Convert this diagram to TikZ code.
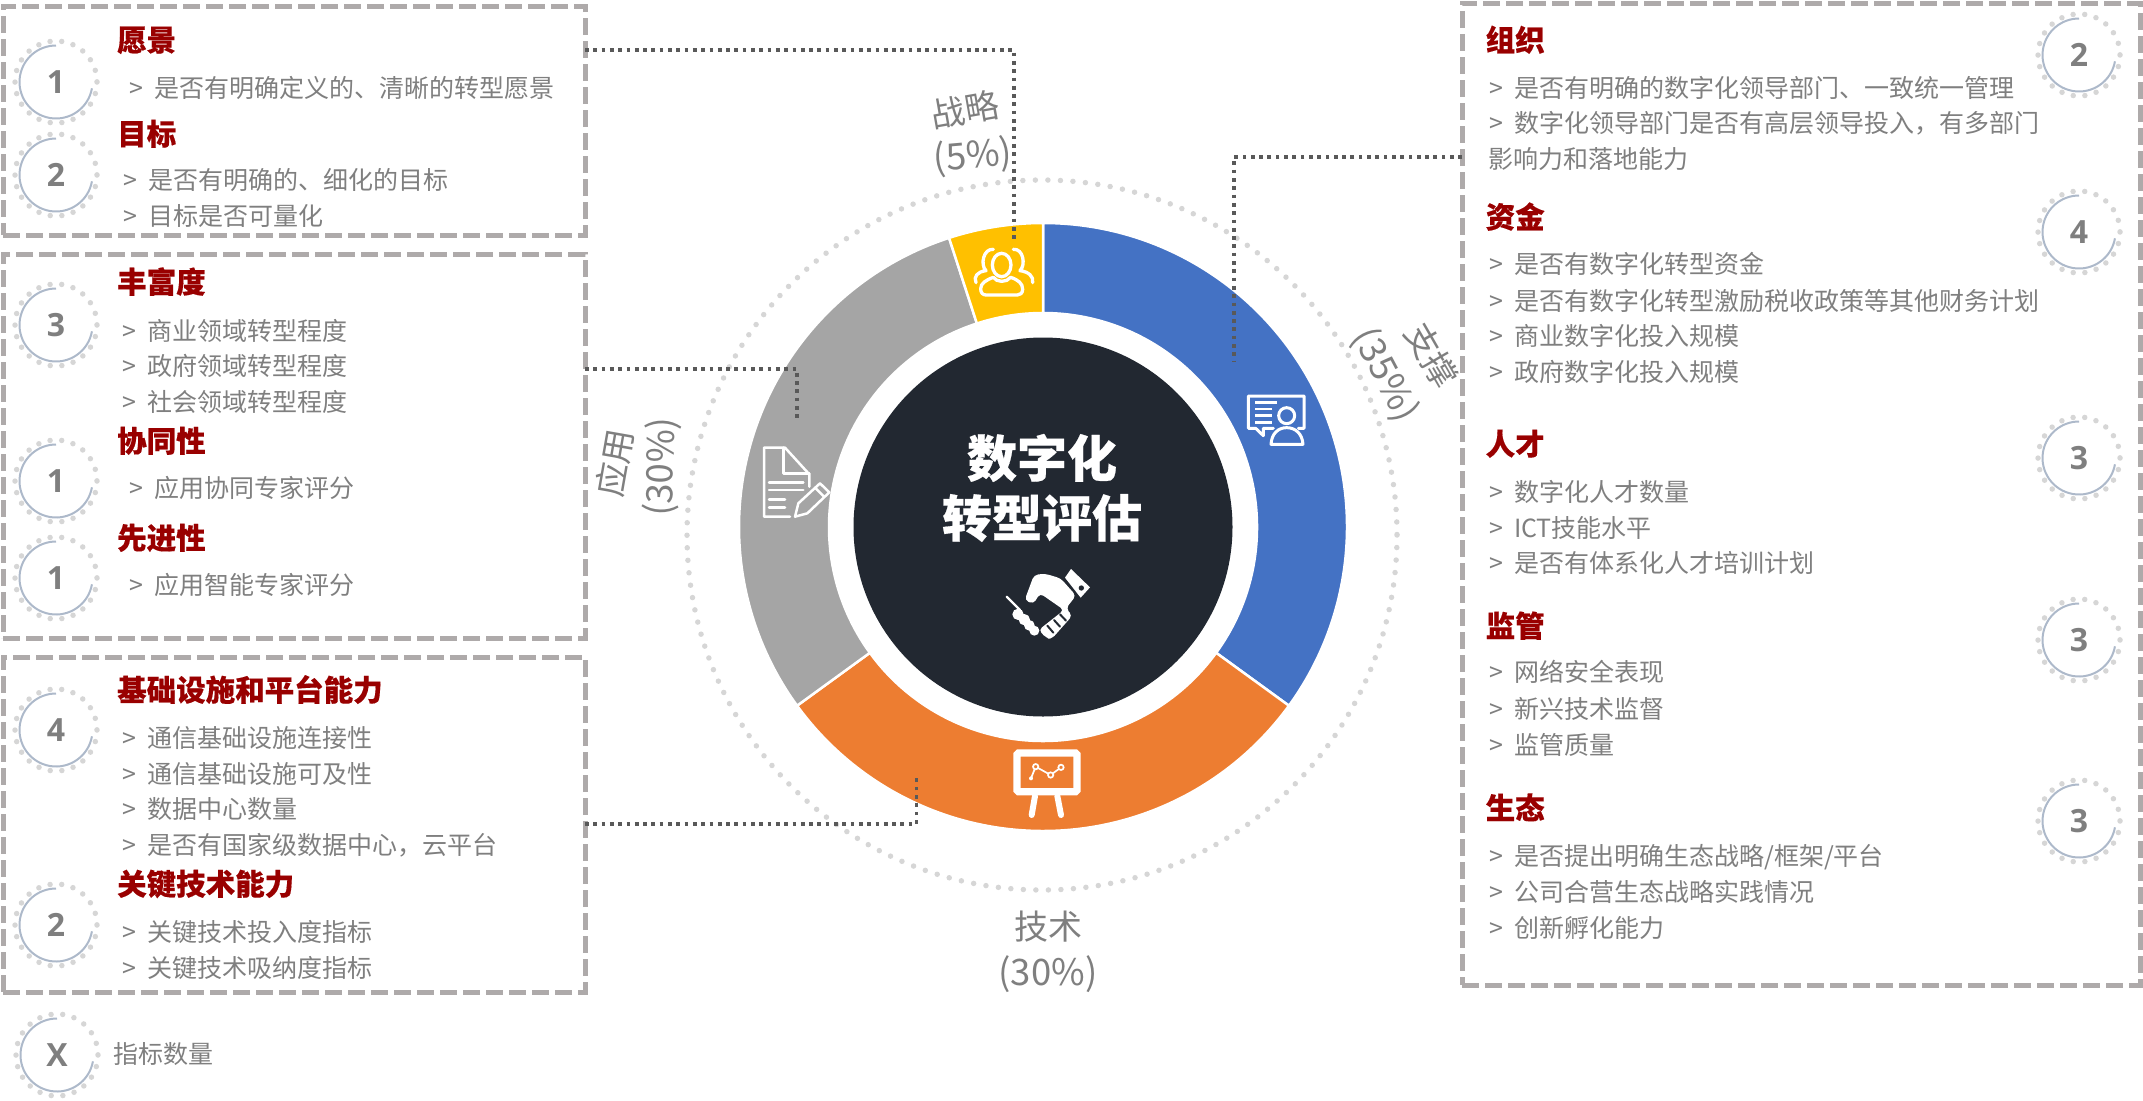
\documentclass[tikz,border=0pt]{standalone}
\usepackage{fontspec}
\setmainfont[BoldFeatures={FakeBold=0.4}]{Noto Sans CJK SC}
\newfontfamily\digitfont{Open Sans}
\usepackage{tikz}

\definecolor{segblue}{HTML}{4472C4}
\definecolor{segorange}{HTML}{ED7D31}
\definecolor{seggray}{HTML}{A5A5A5}
\definecolor{segyellow}{HTML}{FFC000}
\definecolor{coredark}{HTML}{222831}
\definecolor{headred}{HTML}{990000}
\definecolor{bodygray}{HTML}{7F7F7F}
\definecolor{dashgray}{HTML}{AEAAAA}
\definecolor{leadgray}{HTML}{595959}
\definecolor{dotgray}{HTML}{D6D6D6}
\definecolor{arcblue}{HTML}{ADB9CA}

\tikzset{
  dashbox/.style={draw=dashgray, line width=5pt, dash pattern=on 17pt off 6pt, inner sep=0pt, outer sep=0pt},
  leader/.style={draw=leadgray, line width=3.8pt, dash pattern=on 3.7pt off 4.6pt},
  head/.style={anchor=west, inner sep=0pt, text=headred, text height=25.5pt, text depth=3.5pt, font=\fontsize{29.5}{32}\selectfont\bfseries},
  plain/.style={anchor=west, inner sep=0pt, text=bodygray, text height=22pt, text depth=3pt, font=\fontsize{25}{28}\selectfont},
  item/.style={plain, execute at begin node={\makebox[25pt][l]{>}}},
  ringtext/.style={inner sep=0pt, text=bodygray, font=\fontsize{34}{38}\selectfont},
  ringnum/.style={inner sep=0pt, text=bodygray, font=\fontsize{36.5}{40}\selectfont},
  coretext/.style={inner sep=0pt, text=white, font=\fontsize{50}{54}\selectfont\bfseries},
  badgenum/.style={inner sep=0pt, text=bodygray, font=\fontsize{32}{34}\selectfont\digitfont\bfseries},
  badgedots/.style={draw=dotgray, line width=5.5pt, line cap=round, dash pattern=on 0pt off 11.7pt},
  badgearc/.style={draw=arcblue, line width=2pt},
  zoomed/.style={shift={#1}, x=0.3333pt, y=-0.3333pt},
  iconline/.style={draw=white, line width=3pt, line cap=round, line join=round},
}

\newcommand{\badge}[3]{%
  \node[badgenum] (#1) at (#2) {#3};
  \draw[badgedots] (#1) circle (41);
  \draw[badgearc] (#1) ++(10:36.5) arc[start angle=10, end angle=270, radius=36.5];
}
\newcommand{\segment}[3]{%
  \filldraw[fill=#1, draw=white, line width=2.5pt] (#2:304) arc[start angle=#2, end angle=#3, radius=304] -- (#3:214) arc[start angle=#3, end angle=#2, radius=214] -- cycle;
}

\begin{document}
\begin{tikzpicture}[x=1pt,y=-1pt]
\useasboundingbox (0,0) rectangle (2143,1100);

% dashed frames
\node[dashbox, minimum width=582pt, minimum height=229pt] (visionbox) at (294,120.5) {};
\node[dashbox, minimum width=582pt, minimum height=384pt] (applybox) at (294,446) {};
\node[dashbox, minimum width=582pt, minimum height=335pt] (techbox) at (294,824.5) {};
\node[dashbox, minimum width=678pt, minimum height=982pt] (supportbox) at (1801,494) {};

% ring
\draw[draw=dotgray, line width=5.5pt, line cap=round, dash pattern=on 0pt off 12.53pt] (1042,535) circle (355);
\begin{scope}[shift={(1043,527)}]
\segment{segblue}{-90}{36}
\segment{segorange}{36}{144}
\segment{seggray}{144}{252}
\segment{segyellow}{252}{270}
\end{scope}
\node[circle, fill=coredark, inner sep=0pt, minimum size=379pt] (core) at (1043,527) {};
\node[coretext] (coreA) at (1042,458) {数字化};
\node[coretext] (coreB) at (1042,518) {转型评估};

% ring labels
\node[ringtext, rotate=10] (stratA) at (965,110) {战略};
\node[ringnum, rotate=5] (stratB) at (973,157) {(5\%)};
\node[ringtext, rotate=-60] (supA) at (1432,355) {支撑};
\node[ringnum, rotate=-62] (supB) at (1385,375) {(35\%)};
\node[ringtext, rotate=80] (appA) at (615,463) {应用};
\node[ringnum, rotate=88] (appB) at (662,467) {(30\%)};
\node[ringtext] (tecA) at (1048,927) {技术};
\node[ringnum] (tecB) at (1048,974) {(30\%)};

% leaders
\coordinate (visionbend) at (1014,50);
\coordinate (visiontip) at (1014,242);
\coordinate (supportbend) at (1234,157);
\coordinate (supporttip) at (1234,362);
\coordinate (applybend) at (797,369);
\coordinate (applytip) at (797,418);
\coordinate (techbend) at (916.5,824);
\coordinate (techtip) at (916.5,776);
\draw[leader] (visionbox.east |- visionbend) -- (visionbend) -- (visiontip);
\draw[leader] (supportbox.west |- supportbend) -- (supportbend) -- (supporttip);
\draw[leader] (applybox.east |- applybend) -- (applybend) -- (applytip);
\draw[leader] (techbox.east |- techbend) -- (techbend) -- (techtip);

% icons
\begin{scope}[zoomed={(990,555)}]
\fill[white] (243,42) -- (300,97) -- (272,128) -- (225,68) -- cycle;
\fill[coredark] (274,99) circle (8);
\fill[white, rounded corners=4pt] (132,60) -- (165,56) -- (212,70) -- (258,122) -- (228,160) -- (247,182) -- (185,252) -- (170,250) -- (146,225) -- (222,165) -- (150,115) -- (130,147) -- (104,135) -- cycle;
\draw[coredark, line width=2pt, line cap=round] (172,212) -- (190,233) (192,195) -- (210,215) (210,178) -- (228,197);
\draw[white, line width=2.4pt, line cap=round] (50,125) -- (90,165);
\fill[white] (84,178) circle (17) (103,194) circle (17) (118,211) circle (16) (133,227) circle (15);
\end{scope}

\begin{scope}[zoomed={(960,230)}]
\draw[iconline, line width=3.3pt] (125,105) ellipse (28 and 35);
\draw[iconline, line width=3.3pt] (100,142) .. controls (110,158) and (140,158) .. (152,142) .. controls (175,150) and (188,160) .. (188,178) .. controls (188,190) and (180,195) .. (172,195) -- (78,195) .. controls (68,195) and (62,188) .. (62,176) .. controls (62,160) and (78,150) .. (100,142);
\draw[iconline, line width=3.3pt] (100,58) .. controls (70,55) and (60,105) .. (78,122) .. controls (52,125) and (40,140) .. (48,158);
\draw[iconline, line width=3.3pt] (160,58) .. controls (190,55) and (198,105) .. (180,122) .. controls (206,125) and (222,140) .. (218,158);
\end{scope}

\begin{scope}[zoomed={(1235,385)}]
\draw[iconline] (115,130) -- (85,130) -- (85,152) -- (62,130) -- (40,130) -- (40,33) -- (207,33) -- (207,130) -- (190,130);
\draw[iconline, line cap=butt, line width=2.6pt] (60,52) -- (125,52) (60,72) -- (110,72) (60,92) -- (110,92) (60,112) -- (110,112);
\draw[iconline] (155,92) circle (24);
\draw[iconline] (108,178) .. controls (110,145) and (130,128) .. (155,128) .. controls (180,128) and (202,145) .. (204,178) -- cycle;
\end{scope}

\begin{scope}[zoomed={(750,435)}]
\draw[iconline, line width=2.5pt] (120,245) -- (42,245) -- (42,38) -- (105,38) -- (178,118) -- (178,155);
\draw[iconline, line width=2.5pt] (100,38) -- (100,116) -- (178,116);
\draw[iconline, line width=2.5pt] (57,142) -- (160,142) (57,165) -- (160,165) (57,193) -- (105,193) (57,218) -- (105,218);
\draw[iconline, line width=2.5pt] (135,245) -- (145,205) -- (210,145) -- (238,172) -- (172,235) -- cycle;
\draw[iconline, line width=2.5pt] (195,158) -- (223,186);
\end{scope}

\begin{scope}[zoomed={(1000,740)}]
\draw[draw=white, line width=7.3pt, rounded corners=1.5pt] (51,39) rectangle (231,155);
\draw[draw=white, line width=6pt, line cap=round] (105,168) -- (95,225) (172,168) -- (183,225);
\draw[draw=white, line width=1.7pt] (93,115) -- (107,80) -- (152,105) -- (183,82);
\filldraw[fill=segorange, draw=white, line width=1.7pt] (107,80) circle (8) (152,105) circle (8) (183,82) circle (8);
\fill[white] (93,115) circle (6);
\end{scope}

% left column
\badge{visionnum}{56,82}{1}
\badge{goalnum}{56,175}{2}
\badge{richnum}{56,325}{3}
\badge{synnum}{56,481}{1}
\badge{advnum}{56,578}{1}
\badge{infranum}{56,730}{4}
\badge{keynum}{56,925}{2}
\badge{legendnum}{57,1055}{X}

\node[head] (vision) at (117,40) {愿景};
\node[item] (visionA) at (129,87.5) {是否有明确定义的、清晰的转型愿景};
\node[head] (goal) at (117,134) {目标};
\node[item] (goalA) at (123,180) {是否有明确的、细化的目标};
\node[item] (goalB) at (123,216) {目标是否可量化};

\node[head] (rich) at (117,282) {丰富度};
\node[item] (richA) at (122,331) {商业领域转型程度};
\node[item] (richB) at (122,366) {政府领域转型程度};
\node[item] (richC) at (122,402) {社会领域转型程度};
\node[head] (syn) at (117,441) {协同性};
\node[item] (synA) at (129,488) {应用协同专家评分};
\node[head] (adv) at (117,538) {先进性};
\node[item] (advA) at (129,585) {应用智能专家评分};

\node[head] (infra) at (117,690) {基础设施和平台能力};
\node[item] (infraA) at (122,738) {通信基础设施连接性};
\node[item] (infraB) at (122,773.5) {通信基础设施可及性};
\node[item] (infraC) at (122,809) {数据中心数量};
\node[item] (infraD) at (122,845) {是否有国家级数据中心，云平台};
\node[head] (key) at (117,884) {关键技术能力};
\node[item] (keyA) at (122,932) {关键技术投入度指标};
\node[item] (keyB) at (122,968) {关键技术吸纳度指标};

\node[plain] (legend) at (113,1054) {指标数量};

% right column
\badge{orgnum}{2079,55}{2}
\badge{fundnum}{2079,232}{4}
\badge{talentnum}{2079,458}{3}
\badge{regnum}{2079,640}{3}
\badge{econum}{2079,821}{3}

\node[head] (org) at (1485.5,40) {组织};
\node[item] (orgA) at (1489,87.5) {是否有明确的数字化领导部门、一致统一管理};
\node[item] (orgB) at (1489,123) {数字化领导部门是否有高层领导投入，有多部门};
\node[plain] (orgC) at (1488,159) {影响力和落地能力};
\node[head] (fund) at (1485.5,217) {资金};
\node[item] (fundA) at (1489,264) {是否有数字化转型资金};
\node[item] (fundB) at (1489,300.5) {是否有数字化转型激励税收政策等其他财务计划};
\node[item] (fundC) at (1489,336) {商业数字化投入规模};
\node[item] (fundD) at (1489,372) {政府数字化投入规模};
\node[head] (talent) at (1485.5,444) {人才};
\node[item] (talentA) at (1489,492) {数字化人才数量};
\node[item] (talentB) at (1489,527.5) {ICT技能水平};
\node[item] (talentC) at (1489,563) {是否有体系化人才培训计划};
\node[head] (reg) at (1485.5,626) {监管};
\node[item] (regA) at (1489,672) {网络安全表现};
\node[item] (regB) at (1489,709) {新兴技术监督};
\node[item] (regC) at (1489,745) {监管质量};
\node[head] (eco) at (1485.5,808) {生态};
\node[item] (ecoA) at (1489,855.5) {是否提出明确生态战略/框架/平台};
\node[item] (ecoB) at (1489,892) {公司合营生态战略实践情况};
\node[item] (ecoC) at (1489,928) {创新孵化能力};
\end{tikzpicture}
\end{document}
